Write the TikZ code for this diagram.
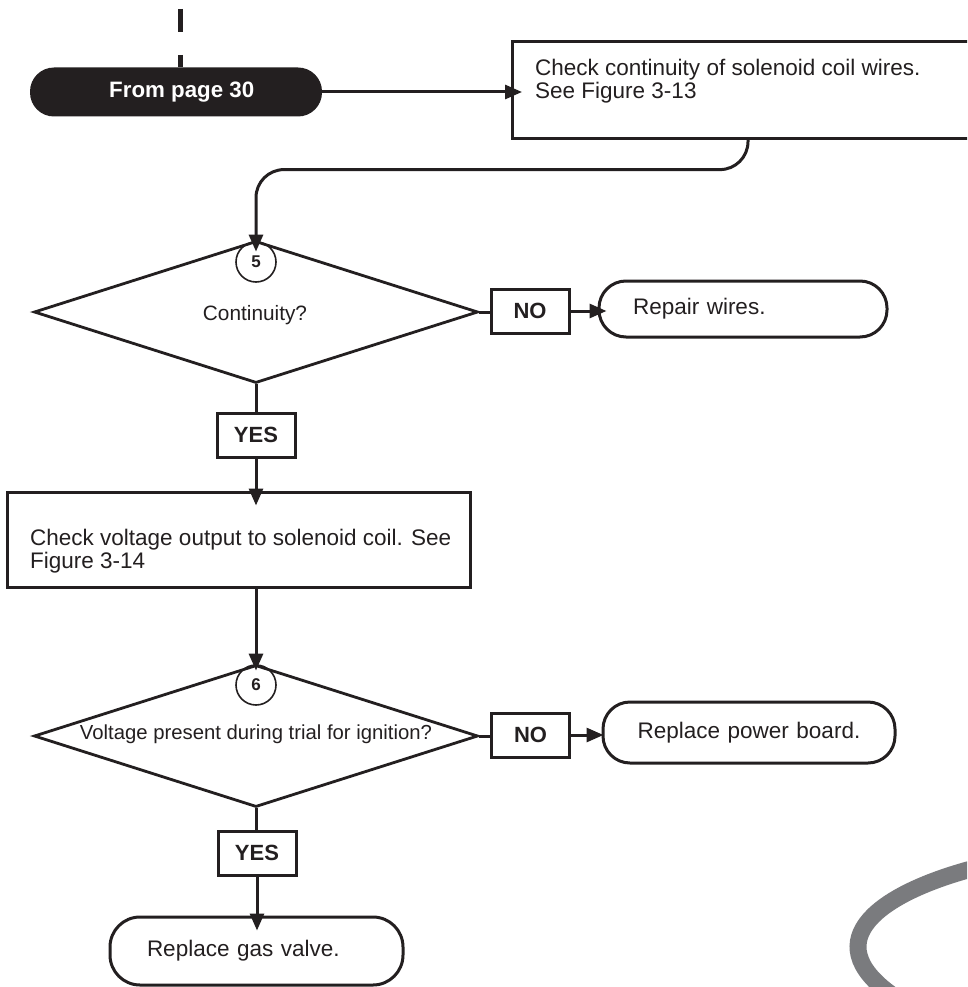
\documentclass[tikz,border=0pt]{standalone}
\usepackage{fontspec}
\setmainfont{Liberation Sans}
\usetikzlibrary{shapes.geometric,arrows.meta,calc}
\definecolor{ink}{HTML}{231F20}
\definecolor{swoosh}{HTML}{7A7B7E}
\tikzset{
  lineconn/.style={draw=ink, line width=3pt},
  conn/.style={lineconn, -{Triangle[length=17pt,width=14pt]}},
  box/.style={draw=ink, line width=3pt, inner sep=0pt},
  txt/.style={text=ink, inner sep=0pt, align=left, font=\fontsize{22.5}{23}\selectfont},
  dtxt/.style={text=ink, inner sep=0pt, font=\fontsize{20.8}{22}\selectfont},
  tag/.style={draw=ink, line width=3pt, minimum width=78pt, minimum height=44pt, inner sep=0pt, text=ink, font=\bfseries\fontsize{22}{22}\selectfont},
  endbox/.style={draw=ink, line width=3pt, rounded corners=27pt, inner ysep=0pt, text=ink, font=\fontsize{22.5}{23}\selectfont},
  dia/.style={diamond, draw=ink, line width=2.8pt, minimum width=444pt, minimum height=142pt, inner sep=0pt},
  num/.style={circle, draw=ink, line width=1.6pt, minimum size=40pt, inner sep=0pt, text=ink, font=\bfseries\fontsize{17}{17}\selectfont},
}
\begin{document}
\begin{tikzpicture}[x=1pt,y=-1pt]
\useasboundingbox (0,0) rectangle (967,987);
\fill[white] (0,0) rectangle (967,987);
\clip (0,0) rectangle (967,987);

% incoming dashed connector and start pill
\node[fill=ink, rounded corners=24pt, minimum width=292pt, minimum height=49pt, inner sep=0pt] (from) at (176,92) {};
\node[anchor=west, inner sep=0pt, text=white, font=\bfseries\fontsize{22.3}{22}\selectfont] (fromtxt) at (109,92) {From page 30};
\coordinate (topin) at (180,9);
\draw[draw=ink, line width=5pt, dash pattern=on 23pt off 23pt] (topin) -- (topin |- from.north);

% first check box
\node[box, anchor=north west, minimum width=500pt, minimum height=97pt] (box1) at (511,40) {};
\node[txt, anchor=west] (box1txt) at (535,81) {Check continuity of solenoid coil wires.\\See Figure 3-13};
\draw[conn, shorten >=-11pt] (from.east) -- (from.east -| box1.west);

% decision 1
\node[dia] (d1) at (256,312) {};
\node[num] (n5) at (256,262) {5};
\node[dtxt] (d1txt) at (255,315) {Continuity?};
\coordinate (b1out) at ($(box1.south west)+(237,0)$);
\draw[conn, rounded corners=28pt, shorten >=-12pt] (b1out) |- ($(d1.north)+(0,-70)$) -- (d1.north);

\node[tag] (no1) at (530,311) {NO};
\node[endbox, minimum width=288pt, minimum height=56pt, text width=220pt, align=left, inner xsep=34pt] (repair) at (743,309) {Repair wires.};
\draw[lineconn] (d1.east) -- (d1.east -| no1.west);
\draw[conn, shorten >=-9pt] (no1.east) -- (no1.east -| repair.west);

\node[tag] (yes1) at (256,435) {YES};
\draw[lineconn] (d1.south) -- (yes1.north);

% second check box
\node[box, minimum width=463pt, minimum height=95pt] (box2) at (238.5,539.5) {};
\node[txt, anchor=west] (box2txt) at (30,551) {Check voltage output to solenoid coil. See\\Figure 3-14};
\draw[conn, shorten >=-15pt] (yes1.south) -- (yes1.south |- box2.north);

% decision 2
\node[dia] (d2) at (256,736) {};
\node[num] (n6) at (256,685) {6};
\node[dtxt, font=\fontsize{20.3}{22}\selectfont] (d2txt) at (256,734) {Voltage present during trial for ignition?};
\draw[conn, shorten >=-7pt] (box2.south -| d2.north) -- (d2.north);

\node[tag] (no2) at (530.5,735) {NO};
\node[endbox, minimum width=292pt, minimum height=61pt, text width=250pt, align=center, inner xsep=21pt] (power) at (749,732.5) {Replace power board.};
\draw[lineconn] (d2.east) -- (d2.east -| no2.west);
\draw[conn, shorten >=-2pt] (no2.east) -- (no2.east -| power.west);

\node[tag] (yes2) at (257,853) {YES};
\draw[lineconn] (d2.south) -- (d2.south |- yes2.north);
\node[endbox, rounded corners=30pt, minimum width=293pt, minimum height=68pt, text width=219pt, align=left, inner xsep=37pt] (gas) at (256.5,951) {Replace gas valve.};
\draw[conn, shorten >=-15pt] (yes2.south) -- (yes2.south |- gas.north);

% grey swoosh
\draw[swoosh, line width=17pt] (975,868) .. controls (880,893) and (815,940) .. (892,995);
\end{tikzpicture}
\end{document}
